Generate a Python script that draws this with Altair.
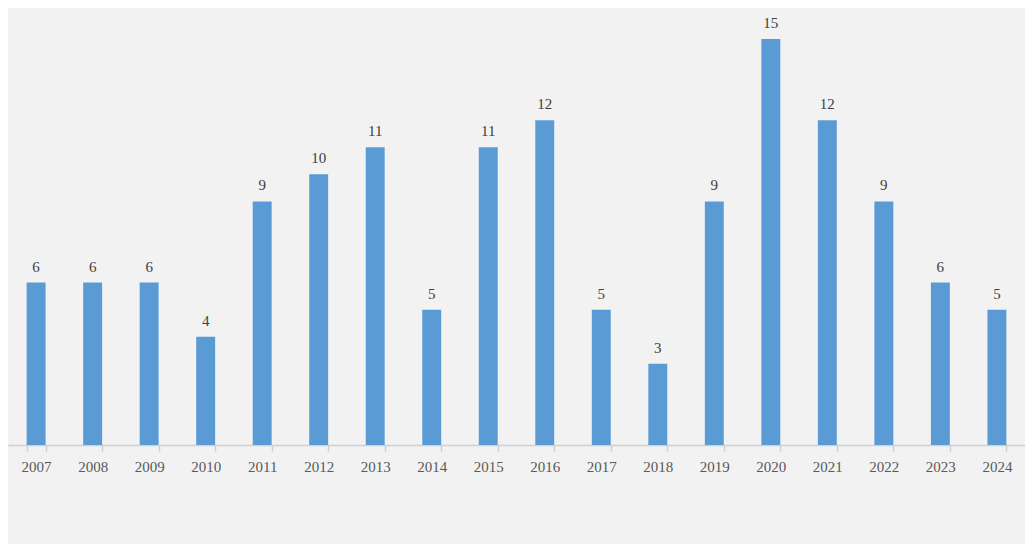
import altair as alt
import pandas as pd

years = ["2007", "2008", "2009", "2010", "2011", "2012", "2013", "2014", "2015",
         "2016", "2017", "2018", "2019", "2020", "2021", "2022", "2023", "2024"]
counts = [6, 6, 6, 4, 9, 10, 11, 5, 11, 12, 5, 3, 9, 15, 12, 9, 6, 5]

df = pd.DataFrame({"year": years, "count": counts})

x = alt.X("year:N", sort=years, title=None,
          scale=alt.Scale(paddingInner=0.665, paddingOuter=0.33),
          axis=alt.Axis(labelAngle=0, labelFont="Liberation Serif", labelFontSize=15,
                        labelColor="#595959", labelPadding=8, tickBand="extent",
                        tickSize=6, tickColor="#cfcfcf", domainColor="#d0d0d0",
                        domainWidth=1.5, tickWidth=1.5, grid=False))
y = alt.Y("count:Q", title=None, scale=alt.Scale(domain=[0, 15], nice=False), axis=None)

bars = alt.Chart(df).mark_bar(color="#5b9bd5").encode(x=x, y=y)
labels = alt.Chart(df).mark_text(font="Liberation Serif", fontSize=15, color="#404040",
                                 baseline="alphabetic", dy=-11).encode(
    x=alt.X("year:N", sort=years), y="count:Q", text="count:Q")

chart = (bars + labels).properties(
    width=1017, height=406,
    background="#f2f2f2",
    padding={"left": 0, "right": 0, "top": 31, "bottom": 99},
    autosize=alt.AutoSizeParams(type="none"),
).configure_view(stroke=None)

chart.save("out.html", embed_options={"renderer": "svg", "actions": False})
